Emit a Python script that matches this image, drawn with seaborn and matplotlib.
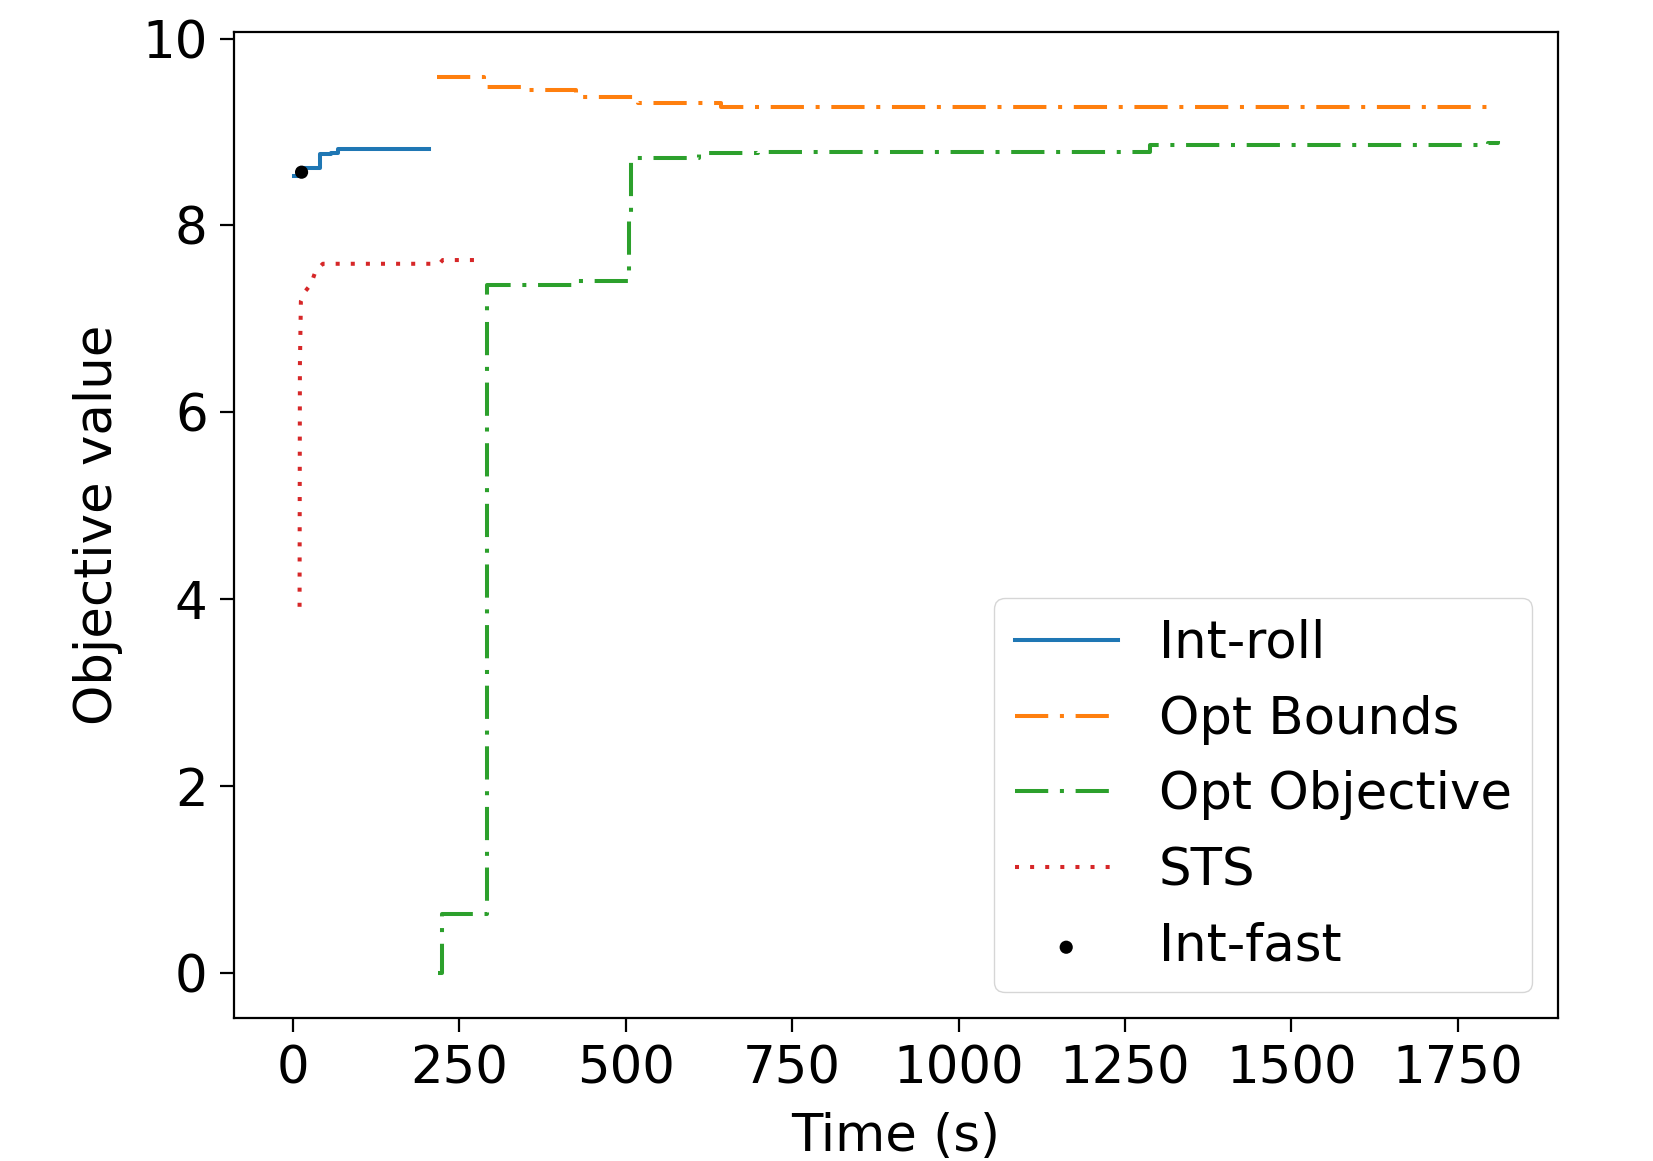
import numpy as np
import pandas as pd
import matplotlib
matplotlib.use("Agg")
import matplotlib.pyplot as plt
import seaborn as sns

# Int-roll (step, post)
roll_t = [2, 12, 40, 57, 67, 204]
roll_v = [8.53, 8.62, 8.76, 8.78, 8.82, 8.82]

# Opt Bounds (step, post)
bounds_t = [217, 287, 348, 425, 518, 643, 1810]
bounds_v = [9.59, 9.48, 9.45, 9.37, 9.31, 9.27, 9.27]

# Opt Objective (step, post)
obj_t = [218, 224, 292, 422, 505, 508, 610, 698, 1287, 1795, 1810]
obj_v = [0.0, 0.63, 7.36, 7.41, 8.10, 8.72, 8.77, 8.79, 8.86, 8.88, 8.90]

# STS
sts_t = [10, 10.5, 12, 19, 27, 34, 45, 220, 225, 287]
sts_v = [3.92, 6.50, 7.19, 7.30, 7.37, 7.51, 7.59, 7.59, 7.63, 7.63]

# Int-fast
fast_t = [13]
fast_v = [8.57]

FS = 37
LW = 2.9
DASHDOT = (0, (8.25, 2.9, 1, 2.9))

fig, ax = plt.subplots(figsize=(16.53, 11.61), dpi=100)
fig.subplots_adjust(left=0.1416, right=0.9425, bottom=0.1232, top=0.9724)

sns.lineplot(x=roll_t, y=roll_v, ax=ax, color="#1f77b4", lw=LW,
             drawstyle="steps-post", errorbar=None, label="Int-roll")
sns.lineplot(x=bounds_t, y=bounds_v, ax=ax, color="#ff7f0e", lw=LW,
             drawstyle="steps-post", errorbar=None, label="Opt Bounds",
             linestyle=DASHDOT)
sns.lineplot(x=obj_t, y=obj_v, ax=ax, color="#2ca02c", lw=LW,
             drawstyle="steps-post", errorbar=None, label="Opt Objective",
             linestyle=DASHDOT)
sns.lineplot(x=sts_t, y=sts_v, ax=ax, color="#d62728", lw=LW,
             errorbar=None, label="STS", linestyle=(0, (1, 2.75)))
sns.scatterplot(x=fast_t, y=fast_v, ax=ax, color="black", s=90,
                edgecolor="none", label="Int-fast", zorder=5)

ax.set_xticks([0, 250, 500, 750, 1000, 1250, 1500, 1750])
ax.set_yticks([0, 2, 4, 6, 8, 10])
ax.set_xlabel("Time (s)", fontsize=FS, labelpad=13)
ax.set_ylabel("Objective value", fontsize=FS, labelpad=14)
ax.tick_params(labelsize=FS, length=10, width=1.6, pad=9)
for s in ax.spines.values():
    s.set_linewidth(1.6)

ax.legend(loc="lower right", fontsize=FS)

fig.savefig("out.png", dpi=100)
